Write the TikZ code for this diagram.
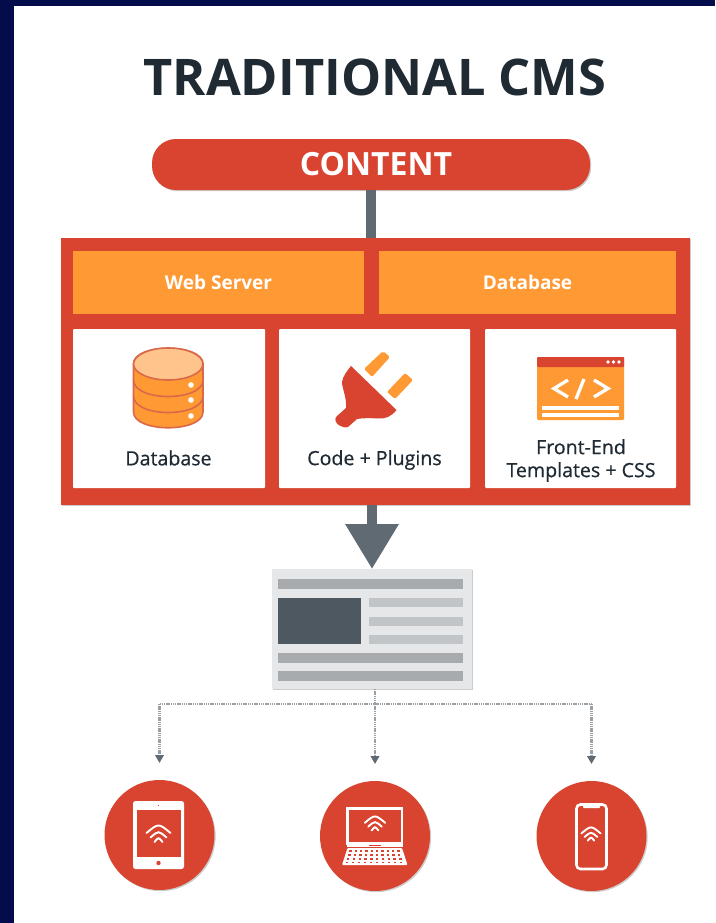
\documentclass[tikz,border=0pt]{standalone}
\usepackage{fontspec}
\setmainfont{Open Sans}
\newfontfamily\semib[FakeBold=0.6]{Open Sans}
\usetikzlibrary{arrows.meta,shadows,calc}
\definecolor{navy}{HTML}{050C4C}
\definecolor{cmsred}{HTML}{D84430}
\definecolor{cmsorange}{HTML}{FF9933}
\definecolor{lightorange}{HTML}{FFC48C}
\definecolor{inkdark}{HTML}{1F2A33}
\definecolor{steel}{HTML}{5F6A72}
\definecolor{pagegrey}{HTML}{E6E7E8}
\definecolor{bargrey}{HTML}{A7ABAD}
\definecolor{lightbar}{HTML}{C1C5C8}
\definecolor{slate}{HTML}{4D5860}
\definecolor{dotgrey}{HTML}{9AA1A6}
\definecolor{iconrim}{HTML}{D9694A}
\tikzset{
  softshadow/.style={general shadow={shadow xshift=1.2pt,shadow yshift=-1.2pt,fill=black,opacity=.2}},
  plainbox/.style={rectangle,inner sep=0pt,outer sep=0pt},
  pillbox/.style={plainbox,fill=cmsred,rounded corners=24pt,softshadow},
  redframe/.style={plainbox,fill=cmsred,softshadow},
  orangebox/.style={plainbox,fill=cmsorange,text=white,font=\fontsize{19}{20}\selectfont\bfseries},
  whitebox/.style={plainbox,fill=white,rounded corners=1pt},
  caption/.style={inner sep=0pt,outer sep=0pt,text=inkdark,align=center,font=\fontsize{19.6}{23}\selectfont\semib},
  pagebox/.style={plainbox,fill=pagegrey,softshadow},
  device/.style={circle,inner sep=0pt,outer sep=0pt,fill=cmsred,minimum size=110pt,softshadow},
  solidlink/.style={draw=steel,line width=10pt},
  bigarrow/.style={draw=steel,line width=10pt,-{Triangle[length=45pt,width=51pt]}},
  dotlink/.style={draw=dotgrey,line width=2.2pt,dash pattern=on 1.4pt off 0.8pt},
  dotarrow/.style={dotlink,shorten >=17pt,-{Triangle[length=8pt,width=8.5pt,fill=steel,color=steel,sep=0pt]}},
  wifiline/.style={draw=white,line width=1.9pt,line cap=round},
  iconline/.style={draw=white,line width=3pt},
}
\newcommand{\wifisign}[3]{%
  \begin{scope}[shift={(#1,#2)},scale=#3]
    \draw[wifiline] (-12,-12) .. controls (0,-22) .. (12,-12);
    \draw[wifiline] (-8,-7.5) .. controls (0,-14.5) .. (8,-7.5);
    \draw[wifiline] (-4,-3) .. controls (0,-8) .. (4,-3);
  \end{scope}}
\begin{document}
\begin{tikzpicture}[x=1pt,y=-1pt]
\useasboundingbox (0,0) rectangle (715,923);
\fill[navy] (0,0) rectangle (715,923);
\fill[white] (14,6) rectangle (715,923);

\node[inner sep=0pt,text=inkdark,font=\fontsize{50.5}{52}\selectfont\bfseries] (title) at (375,77) {TRADITIONAL CMS};

\node[pillbox,minimum width=438pt,minimum height=51pt,text=white,font=\fontsize{32}{34}\selectfont\bfseries] (content) at (371,164.5) {\hspace*{10pt}\raisebox{1.5pt}{CONTENT}};

\node[redframe,minimum width=629pt,minimum height=267pt] (frame) at (375.5,371.5) {};
\node[orangebox,minimum width=291pt,minimum height=63pt] (web) at (218.5,282.5) {Web Server};
\node[orangebox,minimum width=297pt,minimum height=63pt] (dbhead) at (527.5,282.5) {Database};
\node[whitebox,minimum width=192pt,minimum height=159pt] (cellA) at (169,408.5) {};
\node[whitebox,minimum width=191pt,minimum height=159pt] (cellB) at (374.5,408.5) {};
\node[whitebox,minimum width=191pt,minimum height=159pt] (cellC) at (580.5,408.5) {};
\node[caption] (capA) at (168.5,458) {Database};
\node[caption] (capB) at (374.5,460) {Code + Plugins};
\node[caption] (capC) at (581,460.5) {Front-End\\Templates + CSS};

% database icon
\draw[draw=iconrim,line width=1.6pt,fill=cmsorange]
  (133.5,364) -- (133.5,412) .. controls (133.5,433) and (203,433) .. (203,412) -- (203,364) .. controls (203,343) and (133.5,343) .. (133.5,364) -- cycle;
\draw[draw=iconrim,line width=1.6pt] (133.5,380) .. controls (133.5,402) and (203,402) .. (203,380);
\draw[draw=iconrim,line width=1.6pt] (133.5,396) .. controls (133.5,418) and (203,418) .. (203,396);
\draw[draw=iconrim,line width=1.6pt,fill=lightorange] (168.25,364) ellipse[x radius=34.75,y radius=16];
\foreach \dy in {385,400,416} \fill[white] (191,\dy) circle[radius=2.8];

% plug icon
\fill[cmsred] (351,366) -- (396.5,410) .. controls (391,417) and (385,419) .. (378,418.5)
  .. controls (370,418) and (362,418) .. (357,419) -- (348,427)
  .. controls (342,429) and (333,423) .. (336,417) -- (346,408)
  .. controls (347,398) and (342,388) .. (342,382) .. controls (343,376) and (347,371) .. (351,366) -- cycle;
\fill[cmsorange,rounded corners=2pt] (383,351) -- (390,357) -- (372,377) -- (364,369) -- cycle;
\fill[cmsorange,rounded corners=2pt] (405,373) -- (413,380) -- (395,399) -- (387,392) -- cycle;

% template icon
\fill[cmsorange,rounded corners=1pt] (537,357) rectangle (624,420);
\fill[cmsred,rounded corners=1pt] (537,357) rectangle (624,367);
\foreach \dx in {608,613.5,619} \fill[white] (\dx,362) circle[radius=1.9];
\draw[white,line width=3.3pt,line join=miter] (568,380) -- (554,388.5) -- (568,397);
\draw[white,line width=3.3pt] (584,379) -- (576,399);
\draw[white,line width=3.3pt,line join=miter] (594,380) -- (608,388.5) -- (594,397);
\fill[white] (542,406) rectangle (619,410);
\fill[white] (542,413) rectangle (619,417);

% page
\node[pagebox,minimum width=200pt,minimum height=120pt] (page) at (372,629) {};
\fill[bargrey] (278,579) rectangle (463,589);
\fill[slate] (278,598) rectangle (361,644);
\fill[lightbar] (369,598) rectangle (463,607);
\fill[lightbar] (369,617) rectangle (463,626);
\fill[lightbar] (369,635) rectangle (463,644);
\fill[bargrey] (278,653) rectangle (463,663);
\fill[bargrey] (278,671) rectangle (463,681);

% devices
\node[device] (tablet) at (159.5,835) {};
\node[device] (laptop) at (375,836) {};
\node[device] (phone) at (591.5,836) {};

% tablet icon
\fill[white,rounded corners=2.5pt] (133,801) rectangle (184,869);
\fill[cmsred] (136.5,810) rectangle (181,857);
\fill[cmsred] (158.5,863) circle[radius=2.2];
\fill[cmsred] (158.5,805.5) circle[radius=.7];
\wifisign{158.5}{845}{1}

% laptop icon
\draw[iconline,line width=2.6pt] (347.5,808.5) rectangle (402,843.5);
\fill[white] (347,844) rectangle (403,847);
\fill[cmsred] (369,844.6) rectangle (381,846.4);
\fill[white,rounded corners=1pt] (347.5,848) -- (402,848) -- (407.5,865) -- (342,865) -- cycle;
\foreach \r/\a in {851/348.5,855/347.5,859/346,862.5/345}{
  \foreach \k in {0,...,9}{
    \fill[cmsred] ({\a+\k*(375-\a)/5+.9},\r-1) rectangle ++({2.4},1.8);
  }
}
\wifisign{375}{833}{.85}

% phone icon
\draw[iconline,line width=2.6pt,rounded corners=4pt] (576.5,804.5) rectangle (606.5,869);
\fill[white,rounded corners=1pt] (583,804) rectangle (600,808);
\wifisign{591}{843}{.8}

% connectors
\draw[solidlink] (content.south) -- (content.south |- frame.north);
\draw[bigarrow] (page.north |- frame.south) -- (page.north);
\coordinate (hub) at (375,704);
\draw[dotlink] (hub |- page.south) -- (hub);
\draw[dotlink] (hub -| tablet.north) -- (hub -| phone.north);
\draw[dotarrow] (hub -| tablet.north) -- (tablet.north);
\draw[dotarrow] (hub) -- (laptop.north);
\draw[dotarrow] (hub -| phone.north) -- (phone.north);
\end{tikzpicture}
\end{document}
